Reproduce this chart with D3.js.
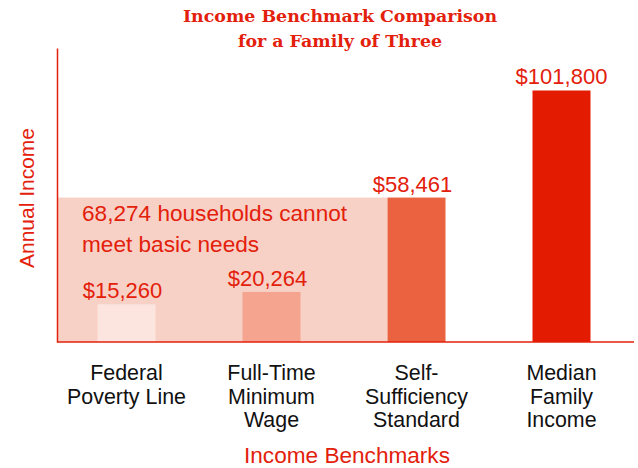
<!DOCTYPE html>
<html>
<head>
<meta charset="utf-8">
<script src="https://cdn.jsdelivr.net/npm/d3@7"></script>
<style>
  html, body { margin: 0; padding: 0; background: #ffffff; }
  svg { display: block; }
</style>
</head>
<body>
<svg id="chart" width="638" height="468"></svg>
<script>
// ---- data ----
const categories = [
  ["Federal", "Poverty Line"],
  ["Full-Time", "Minimum", "Wage"],
  ["Self-", "Sufficiency", "Standard"],
  ["Median", "Family", "Income"]
];
const categoryKeys = ["Federal Poverty Line", "Full-Time Minimum Wage", "Self-Sufficiency Standard", "Median Family Income"];
const values = [15260, 20264, 58461, 101800];
const barColors = ["#fbe5de", "#f4a48f", "#ea6240", "#e31b00"];
const titleLines = ["Income Benchmark Comparison", "for a Family of Three"];
const annotationLines = ["68,274 households cannot", "meet basic needs"];
const xTitle = "Income Benchmarks";
const yTitle = "Annual Income";
const yMax = 119000;

// ---- layout ----
const red = "#e3200b";
const svg = d3.select("#chart");
const x0 = 57, baseY = 342, topY = 48, xEnd = 634;

const x = d3.scaleBand().domain(categoryKeys).range([54, xEnd]).paddingInner(0.6).paddingOuter(0.3);
const y = d3.scaleLinear().domain([0, yMax]).range([baseY, topY]);

// shaded region: below self-sufficiency standard
svg.append("rect")
  .attr("x", x0)
  .attr("y", y(values[2]))
  .attr("width", x(categoryKeys[2]) - x0)
  .attr("height", baseY - y(values[2]))
  .attr("fill", "#f8d1c6");

// annotation
const ann = svg.append("text")
  .attr("font-family", "Liberation Sans, Arial, sans-serif")
  .attr("font-size", 22.6)
  .attr("fill", red);
annotationLines.forEach((t, i) => {
  ann.append("tspan").attr("x", 82).attr("y", 221 + i * 31).text(t);
});

// bars
svg.selectAll("rect.bar")
  .data(values)
  .join("rect")
  .attr("class", "bar")
  .attr("x", (d, i) => x(categoryKeys[i]))
  .attr("y", d => y(d))
  .attr("width", x.bandwidth())
  .attr("height", d => baseY - y(d))
  .attr("fill", (d, i) => barColors[i]);

// value labels
svg.selectAll("text.val")
  .data(values)
  .join("text")
  .attr("class", "val")
  .attr("x", (d, i) => x(categoryKeys[i]) + x.bandwidth() / 2 - (i < 3 ? 4 : 0))
  .attr("y", d => y(d) - 6)
  .attr("text-anchor", "middle")
  .attr("font-family", "Liberation Sans, Arial, sans-serif")
  .attr("font-size", 22)
  .attr("fill", red)
  .text(d => "$" + d3.format(",")(d));

// axes lines
const yAxis = d3.axisLeft(y).tickValues([]).tickSizeOuter(0);
const gy = svg.append("g").attr("transform", `translate(${x0},0)`).call(yAxis);
gy.select(".domain").attr("stroke", red).attr("stroke-width", 1.5);

svg.append("line")
  .attr("x1", x0).attr("x2", xEnd)
  .attr("y1", baseY).attr("y2", baseY)
  .attr("stroke", red).attr("stroke-width", 1.5);

// category labels
categories.forEach((lines, i) => {
  const t = svg.append("text")
    .attr("text-anchor", "middle")
    .attr("font-family", "Liberation Sans, Arial, sans-serif")
    .attr("font-size", 21.4)
    .attr("fill", "#111");
  lines.forEach((l, j) => {
    t.append("tspan")
      .attr("x", x(categoryKeys[i]) + x.bandwidth() / 2)
      .attr("y", 380 + j * 23.5)
      .text(l);
  });
});

// axis titles
svg.append("text")
  .attr("x", 347).attr("y", 463)
  .attr("text-anchor", "middle")
  .attr("font-family", "Liberation Sans, Arial, sans-serif")
  .attr("font-size", 22.6)
  .attr("fill", red)
  .text(xTitle);

svg.append("text")
  .attr("transform", "translate(34,198) rotate(-90)")
  .attr("text-anchor", "middle")
  .attr("font-family", "Liberation Sans, Arial, sans-serif")
  .attr("font-size", 21)
  .attr("fill", red)
  .text(yTitle);

// title
const title = svg.append("text")
  .attr("text-anchor", "middle")
  .attr("font-family", "DejaVu Serif, serif")
  .attr("font-weight", "bold")
  .attr("font-size", 17.4)
  .attr("fill", red);
titleLines.forEach((t, i) => {
  title.append("tspan").attr("x", 340).attr("y", 22 + i * 24.5).text(t);
});
</script>
</body>
</html>
